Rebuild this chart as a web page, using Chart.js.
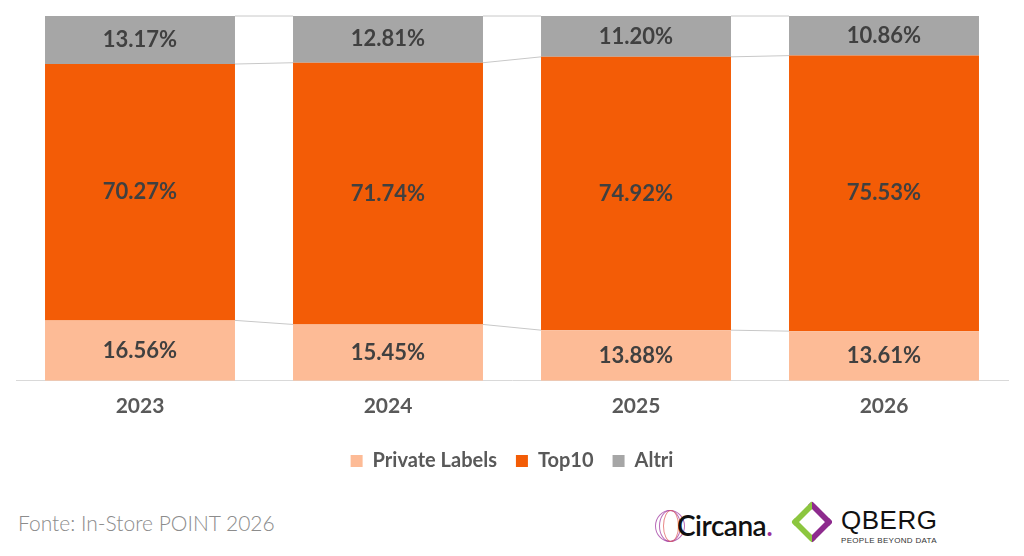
<!DOCTYPE html>
<html>
<head>
<meta charset="utf-8">
<script src="https://cdn.jsdelivr.net/npm/chart.js@4"></script>
<style>
  html, body { margin:0; padding:0; background:#fff; }
  body { width:1024px; height:556px; position:relative; overflow:hidden; font-family:"Lato","Open Sans",sans-serif; }
  #wrap { position:absolute; left:0; top:0; width:1024px; height:481px; }
  #fonte { position:absolute; left:18px; top:510px; font-size:21px; color:#8c8c8c; font-family:"Lato",sans-serif; font-weight:300; }
  #circana { position:absolute; left:655px; top:506px; width:130px; height:40px; }
  #circana .ring { position:absolute; top:4px; height:30px; border:1.5px solid #a03aa0; border-radius:50%; opacity:0.75; }
  #circana .txt { position:absolute; left:22px; top:2px; font-size:28px; color:#111; font-family:"Lato",sans-serif; font-weight:600; letter-spacing:-0.5px; }
  #circana .dot { color:#9b2d9b; }
  #qberg { position:absolute; left:797px; top:503px; }
  #qberg .mark { position:absolute; left:0; top:4px; width:30px; height:30px; transform:rotate(45deg); border:6px solid #8cc63f; border-top-color:#8e2b8e; border-right-color:#8e2b8e; box-sizing:border-box; border-radius:3px; }
  #qberg .name { position:absolute; left:44px; top:2px; font-size:26px; color:#111; font-family:"Liberation Sans",sans-serif; letter-spacing:0.5px; }
  #qberg .sub { position:absolute; left:44px; top:33px; font-size:8px; color:#333; font-family:"Liberation Sans",sans-serif; white-space:nowrap; letter-spacing:0.3px; }
</style>
</head>
<body>
<div id="wrap"><canvas id="c"></canvas></div>
<div id="fonte">Fonte: In-Store POINT 2026</div>
<div id="circana">
  <span class="ring" style="left:0;width:28px"></span>
  <span class="ring" style="left:4px;width:20px"></span>
  <span class="ring" style="left:8px;width:14px;border-color:#e06060"></span>
  <span class="txt">Circana<span class="dot">.</span></span>
</div>
<div id="qberg"><div class="mark"></div><div class="name">QBERG</div><div class="sub">PEOPLE BEYOND DATA</div></div>
<script>
// ---- dati ----
const years = ['2023', '2024', '2025', '2026'];
const privateLabels = [16.56, 15.45, 13.88, 13.61];
const top10 = [70.27, 71.74, 74.92, 75.53];
const altri = [13.17, 12.81, 11.20, 10.86];

const FONT = '"Lato","Open Sans",sans-serif';

// etichette percentuali al centro di ogni segmento
const valueLabels = {
    id:'valueLabels',
    afterDatasetsDraw(chart){
        const ctx = chart.ctx;
        ctx.save();
        ctx.font = 'bold 22px ' + FONT;
        ctx.fillStyle = '#404040';
        ctx.textAlign = 'center';
        ctx.textBaseline = 'middle';
        chart.data.datasets.forEach((ds, di)=>{
            chart.getDatasetMeta(di).data.forEach((bar, i)=>{
                const y = (bar.y + bar.base) / 2;
                ctx.fillText(ds.data[i].toFixed(2) + '%', bar.x, y);
            });
        });
        ctx.restore();
    }
};

// linee di collegamento tra le barre
const connectors = {
    id:'connectors',
    beforeDatasetsDraw(chart){
        const ctx = chart.ctx;
        ctx.save();
        ctx.strokeStyle = '#c8c8c8';
        ctx.lineWidth = 1;
        chart.data.datasets.forEach((ds, di)=>{
            const bars = chart.getDatasetMeta(di).data;
            for(let i=0;i<bars.length-1;i++){
                const a = bars[i], b = bars[i+1];
                ctx.beginPath();
                ctx.moveTo(a.x + a.width/2, a.y);
                ctx.lineTo(b.x - b.width/2, b.y);
                ctx.stroke();
            }
        });
        ctx.restore();
    }
};

new Chart(document.getElementById('c'), {
    type:'bar',
    data:{
        labels:years,
        datasets:[
            {label:'Private Labels', data:privateLabels, backgroundColor:'#fdbb96'},
            {label:'Top10', data:top10, backgroundColor:'#f35c06'},
            {label:'Altri', data:altri, backgroundColor:'#a6a6a6'}
        ]
    },
    options:{
        responsive:true,
        maintainAspectRatio:false,
        animation:false,
        layout:{padding:{left:16, right:16, top:16, bottom:0}},
        datasets:{bar:{categoryPercentage:0.766, barPercentage:1}},
        scales:{
            x:{
                stacked:true,
                grid:{display:false, drawTicks:false},
                border:{color:'#d9d9d9'},
                ticks:{color:'#595959', font:{family:FONT, size:21, weight:'bold'}, padding:13}
            },
            y:{
                stacked:true, min:0, max:100, display:false
            }
        },
        plugins:{
            legend:{
                position:'bottom',
                labels:{
                    color:'#595959',
                    font:{family:FONT, size:20, weight:'bold'},
                    boxWidth:12, boxHeight:12, padding:19
                }
            },
            tooltip:{enabled:false}
        }
    },
    plugins:[connectors, valueLabels]
});
</script>
</body>
</html>
